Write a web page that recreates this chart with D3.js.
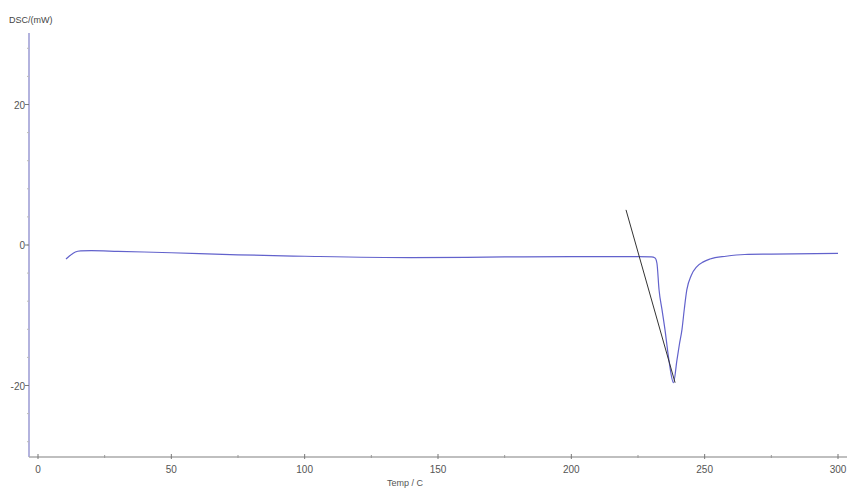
<!DOCTYPE html>
<html><head><meta charset="utf-8">
<script src="https://cdn.jsdelivr.net/npm/d3@7"></script>
<style>body{margin:0;background:#fff}svg{display:block}text{font-family:"Liberation Sans",Arial,sans-serif}</style>
</head><body><svg id="c" width="847" height="488"></svg>
<script>
const temps = [10.5,12,14,16,20,30,50,75,100,140,175,200,225,230,231.4,232.1,232.9,234,235.1,236.6,238.3,239.6,240.5,241.5,242.4,243.3,245,247,249.5,252,258,265,275,300];
const dsc   = [-2.0,-1.5,-1.0,-0.85,-0.8,-0.9,-1.1,-1.4,-1.6,-1.8,-1.7,-1.65,-1.65,-1.7,-1.85,-2.6,-6.4,-9.2,-12,-16.4,-19.6,-16.4,-14.2,-12,-9,-6.4,-4.3,-3.1,-2.4,-2.0,-1.6,-1.35,-1.3,-1.2];
const tangentT = [220.5, 238.9];
const tangentV = [5.0, -19.6];
const xTicks = [0,50,100,150,200,250,300];
const yTicks = [-20,0,20];
const xLabel = "Temp / C";
const yLabel = "DSC/(mW)";

const svg = d3.select("#c");
const x = d3.scaleLinear().domain([0,300]).range([38,838]);
const y = d3.scaleLinear().domain([-30,30]).range([455.75,34.25]);
const x0 = 29, y0 = 457;

svg.append("line").attr("x1",x0).attr("x2",x0).attr("y1",33).attr("y2",y0).attr("stroke","#8080c8").attr("stroke-width",1.2);
svg.append("line").attr("x1",x0).attr("x2",847).attr("y1",y0).attr("y2",y0).attr("stroke","#aaaaaa").attr("stroke-width",1.5);

const yMinor = d3.range(-28,29,4);
svg.selectAll(".ym").data(yMinor).enter().append("line")
  .attr("x1",x0-2).attr("x2",x0).attr("y1",d=>y(d)).attr("y2",d=>y(d)).attr("stroke","#bbb");
svg.selectAll(".yt").data(yTicks).enter().append("line")
  .attr("x1",x0-4).attr("x2",x0).attr("y1",d=>y(d)).attr("y2",d=>y(d)).attr("stroke","#777");
svg.selectAll(".yl").data(yTicks).enter().append("text")
  .attr("x",x0-4).attr("y",d=>y(d)+4).attr("text-anchor","end").attr("font-size",10).attr("fill","#555").text(d=>d);

const xMinor = d3.range(25,300,50);
svg.selectAll(".xm").data(xMinor).enter().append("line")
  .attr("x1",d=>x(d)).attr("x2",d=>x(d)).attr("y1",y0-2).attr("y2",y0+1).attr("stroke","#999");
svg.selectAll(".xt").data(xTicks).enter().append("line")
  .attr("x1",d=>x(d)).attr("x2",d=>x(d)).attr("y1",y0-3).attr("y2",y0+2).attr("stroke","#777");
svg.selectAll(".xl").data(xTicks).enter().append("text")
  .attr("x",d=>x(d)).attr("y",473).attr("text-anchor","middle").attr("font-size",10).attr("fill","#555").text(d=>d);

svg.append("text").attr("x",405).attr("y",486).attr("text-anchor","middle").attr("font-size",9).attr("fill","#555").text(xLabel);
svg.append("text").attr("x",9).attr("y",23).attr("font-size",9).attr("fill","#444").text(yLabel);

const pts = temps.map((t,i)=>[t,dsc[i]]);
svg.append("path").datum(pts)
  .attr("d", d3.line().x(d=>x(d[0])).y(d=>y(d[1])).curve(d3.curveMonotoneX))
  .attr("fill","none").attr("stroke","#6262cc").attr("stroke-width",1.2);

svg.append("line").attr("x1",x(tangentT[0])).attr("y1",y(tangentV[0])).attr("x2",x(tangentT[1])).attr("y2",y(tangentV[1]))
  .attr("stroke","#333").attr("stroke-width",1);
</script></body></html>
